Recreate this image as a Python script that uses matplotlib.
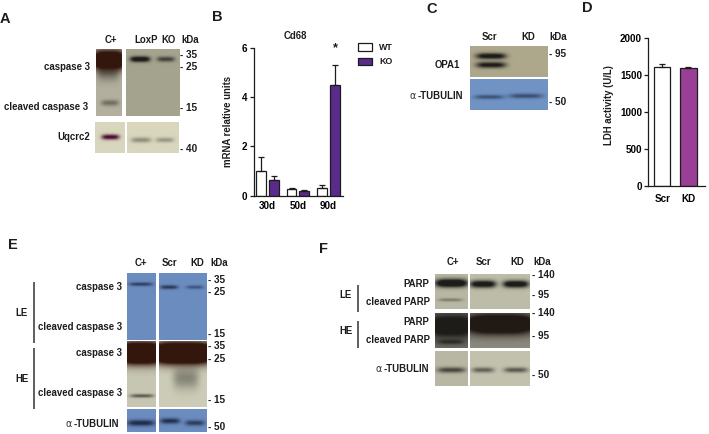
import numpy as np
import matplotlib
matplotlib.use('Agg')
import matplotlib.pyplot as plt

plt.rcParams['font.family'] = ['Liberation Sans', 'DejaVu Sans']
plt.rcParams['font.weight'] = 'bold'

W, H = 709, 434
INK = '#1c1c1c'
FS = 6.9

# chart values
cd68_groups = ['30d', '50d', '90d']
cd68_wt = [1.0, 0.26, 0.32]
cd68_ko = [0.63, 0.19, 4.47]
cd68_wt_err = [0.58, 0.07, 0.11]
cd68_ko_err = [0.18, 0.05, 0.83]
ldh_groups = ['Scr', 'KD']
ldh_vals = [1610, 1585]
ldh_err = [30, 25]

# blot tones
TAN = (0.68, 0.66, 0.55)
GREY = (0.64, 0.64, 0.56)
PALE = (0.85, 0.84, 0.74)
BLUE = (0.44, 0.58, 0.77)
BLUE2 = (0.42, 0.55, 0.75)
DARK = (0.12, 0.11, 0.10)
BROWN = (0.20, 0.09, 0.05)
PLUM = (0.30, 0.06, 0.20)
NAVY = (0.13, 0.18, 0.30)

fig = plt.figure(figsize=(W / 100, H / 100), dpi=100, facecolor='white')
bg = fig.add_axes([0, 0, 1, 1])
bg.set_xlim(0, W)
bg.set_ylim(H, 0)
bg.axis('off')


def blot(x0, y0, x1, y1, tone, bands=()):
    # bands: x, y, half width, half height, strength, colour (page pixels)
    # strength above 1 gives a saturated core
    xs = np.linspace(x0, x1, int(x1 - x0) * 2)
    ys = np.linspace(y0, y1, int(y1 - y0) * 2)
    xx, yy = np.meshgrid(xs, ys)
    img = np.ones(xx.shape + (3,)) * np.array(tone)
    for bx, by, wx, wy, a, col in bands:
        m = np.minimum(1, a * np.exp(-((xx - bx) / wx) ** 4 - ((yy - by) / wy) ** 2))
        img = img * (1 - m[..., None]) + np.array(col) * m[..., None]
    bg.imshow(img, extent=(x0, x1, y1, y0), aspect='auto', interpolation='bilinear', zorder=1)


def txt(x, y, s, ha='center', size=FS):
    bg.text(x, y, s, ha=ha, va='center', fontsize=size, color=INK, fontweight='bold', zorder=3)


def alpha_label(x, y):
    bg.text(x, y, 'α', ha='right', va='center', fontsize=FS, color='#333333', fontweight='normal',
            family=['DejaVu Sans'], zorder=3)
    bg.text(x + 1.5, y, '-TUBULIN', ha='left', va='center', fontsize=FS, color=INK, fontweight='bold', zorder=3)


def rule(x, y0, y1):
    bg.plot([x, x], [y0, y1], color='#333333', lw=1.1, zorder=3, solid_capstyle='butt')


# panel A
blot(96, 49, 122, 116, (0.70, 0.69, 0.62), [(108, 71, 11, 9, 0.5, DARK), (109, 60, 16, 9, 2.2, BROWN),
                                            (110, 103, 9, 3, 0.45, DARK)])
blot(126, 49, 180, 116, GREY, [(140, 59, 10, 2.8, 1.3, DARK), (166, 59, 9, 2.6, 0.75, DARK)])
blot(94.5, 122, 124.5, 153, PALE, [(110, 137, 9, 2.6, 1.1, PLUM)])
blot(127, 122, 179, 153, PALE, [(141, 140, 10, 2.6, 0.4, DARK), (165, 140, 9, 2.4, 0.35, DARK)])
for x, s in zip([111, 146, 169, 190], ['C+', 'LoxP', 'KO', 'kDa']):
    txt(x, 40, s)
for y, s in zip([55, 67, 108, 149], ['- 35', '- 25', '- 15', '- 40']):
    txt(180, y, s, ha='left', size=7.2)
txt(90, 67, 'caspase 3', ha='right')
txt(88, 107, 'cleaved caspase 3', ha='right')
txt(90, 137, 'Uqcrc2', ha='right')

# panel C
blot(470, 46, 548, 77, TAN, [(491, 56, 15, 3.0, 1.2, DARK), (491, 65, 15, 3.0, 1.1, DARK)])
blot(470, 79, 548, 110, BLUE, [(489, 97, 15, 2.2, 0.65, NAVY), (526, 96, 17, 2.4, 0.7, NAVY)])
for x, s in zip([490, 528, 558], ['Scr', 'KD', 'kDa']):
    txt(x, 37, s)
txt(549, 54, '- 95', ha='left', size=7.2)
txt(549, 102, '- 50', ha='left', size=7.2)
txt(460, 65, 'OPA1', ha='right')
alpha_label(416, 96)

# panel E
blot(127, 273, 156, 340, BLUE2, [(141, 284, 12, 1.8, 0.85, NAVY)])
blot(159, 273, 207, 340, BLUE2, [(169, 287, 9, 2, 0.9, NAVY), (195, 287, 9, 1.8, 0.6, NAVY)])
blot(127, 341, 156, 407, (0.78, 0.78, 0.70), [(141, 353, 22, 10, 2.6, BROWN), (142, 396, 12, 1.8, 0.65, DARK)])
blot(159, 341, 207, 407, (0.80, 0.80, 0.72), [(186, 378, 13, 11, 0.4, DARK), (183, 353, 32, 10, 2.6, BROWN)])
blot(127, 409, 156, 432, BLUE2, [(141, 423, 14, 3, 1.1, NAVY)])
blot(159, 409, 207, 432, BLUE2, [(170, 421, 10, 2.8, 1.0, NAVY), (195, 423, 10, 2.8, 0.85, NAVY)])
for x, s in zip([141, 169, 197, 219], ['C+', 'Scr', 'KD', 'kDa']):
    txt(x, 263, s)
for y, s in zip([280, 292, 334, 346, 359, 400, 427], ['- 35', '- 25', '- 15', '- 35', '- 25', '- 15', '- 50']):
    txt(208, y, s, ha='left', size=7.2)
for y, s in zip([287, 327, 353, 393], ['caspase 3', 'cleaved caspase 3', 'caspase 3', 'cleaved caspase 3']):
    txt(122, y, s, ha='right')
alpha_label(72, 424)
rule(34, 282, 343)
rule(34, 348, 409)
txt(22, 313, 'LE')
txt(22, 379, 'HE')

# panel F
blot(434.7, 274, 467.3, 309, (0.72, 0.72, 0.64), [(451, 283, 16, 4.0, 1.6, DARK), (450, 300, 12, 1.6, 0.4, DARK)])
blot(470, 274, 530, 309, (0.74, 0.74, 0.66), [(483, 284, 13, 3.6, 1.3, DARK), (516, 284, 13, 3.6, 1.3, DARK)])
blot(434.7, 313, 467.3, 348, (0.42, 0.41, 0.38), [(451, 326, 22, 11, 1.7, DARK), (450, 342, 13, 2.5, 0.8, DARK)])
blot(470, 313, 530, 348, (0.55, 0.54, 0.50), [(500, 324, 36, 10, 2.0, (0.13, 0.10, 0.08))])
blot(435, 351, 467.3, 386, (0.72, 0.72, 0.64), [(451, 370, 14, 2.8, 0.75, DARK)])
blot(470, 351, 530, 386, (0.76, 0.76, 0.68), [(483, 370, 11, 2.6, 0.6, DARK), (516, 370, 12, 2.6, 0.65, DARK)])
for x, s in zip([453, 483, 517, 542], ['C+', 'Scr', 'KD', 'kDa']):
    txt(x, 262, s)
for y, s in zip([275, 295, 313, 336, 375], ['- 140', '- 95', '- 140', '- 95', '- 50']):
    txt(532, y, s, ha='left', size=7.2)
for y, s in zip([284, 302, 322, 340], ['PARP', 'cleaved PARP', 'PARP', 'cleaved PARP']):
    txt(429.5, y, s, ha='right')
alpha_label(382, 369)
rule(358, 285, 312)
rule(358, 321, 348)
txt(346, 295, 'LE')
txt(346, 331, 'HE')

# panel letters
for x, y, s in [(5, 19, 'A'), (217, 17, 'B'), (432, 9, 'C'), (587, 8, 'D'), (13, 245, 'E'), (323, 249, 'F')]:
    txt(x, y, s, size=10.5)


def chart_axes(left, right, top, bottom):
    ax = fig.add_axes([left / W, 1 - bottom / H, (right - left) / W, (bottom - top) / H])
    ax.patch.set_alpha(0)
    for side in ['top', 'right']:
        ax.spines[side].set_visible(False)
    for side in ['left', 'bottom']:
        ax.spines[side].set_linewidth(0.9)
        ax.spines[side].set_color(INK)
    ax.tick_params(axis='y', length=3, width=0.9, labelsize=7.1, pad=1.5, color=INK)
    ax.tick_params(axis='x', length=0, labelsize=7.1, pad=4)
    return ax


# panel B
ax = chart_axes(253.7, 342.7, 47.7, 195.7)
x = np.arange(len(cd68_groups))
err_style = dict(ecolor=INK, elinewidth=0.9, capsize=2.4, capthick=0.9)
ax.bar(x - 0.21, cd68_wt, 0.32, color='white', edgecolor=INK, linewidth=0.9,
       yerr=[[0] * 3, cd68_wt_err], error_kw=err_style)
ax.bar(x + 0.21, cd68_ko, 0.32, color='#5b2b8c', edgecolor=INK, linewidth=0.9,
       yerr=[[0] * 3, cd68_ko_err], error_kw=err_style)
ax.set_xlim(-0.455, 2.475)
ax.set_ylim(0, 6)
ax.set_yticks([0, 2, 4, 6])
ax.set_xticks(x)
ax.set_xticklabels(cd68_groups)
txt(295, 36, 'Cd68')
txt(335, 48, '*', size=9)
bg.text(228, 121, 'mRNA relative units', rotation=90, ha='center', va='center', fontsize=FS,
        color=INK, fontweight='bold')
bg.add_patch(plt.Rectangle((357.5, 43), 14, 8, fc='white', ec=INK, lw=0.9, zorder=3))
bg.add_patch(plt.Rectangle((357.5, 58), 14, 7, fc='#5b2b8c', ec=INK, lw=0.9, zorder=3))
txt(379, 47, 'WT', ha='left', size=6.4)
txt(379, 62, 'KO', ha='left', size=6.4)

# panel D
ax = chart_axes(648.3, 705, 37.7, 185.7)
x = np.arange(len(ldh_groups))
ax.bar(x, ldh_vals, 0.63, color=['white', '#9a3f96'], edgecolor=INK, linewidth=0.9,
       yerr=[[0, 0], ldh_err], error_kw=err_style)
ax.set_xlim(-0.53, 1.63)
ax.set_ylim(0, 2000)
ax.set_yticks([0, 500, 1000, 1500, 2000])
ax.set_xticks(x)
ax.set_xticklabels(ldh_groups)
ax.tick_params(axis='x', pad=6)
bg.text(609, 105, 'LDH activity (U/L)', rotation=90, ha='center', va='center', fontsize=FS,
        color=INK, fontweight='bold')

fig.savefig('out.png', dpi=100)
